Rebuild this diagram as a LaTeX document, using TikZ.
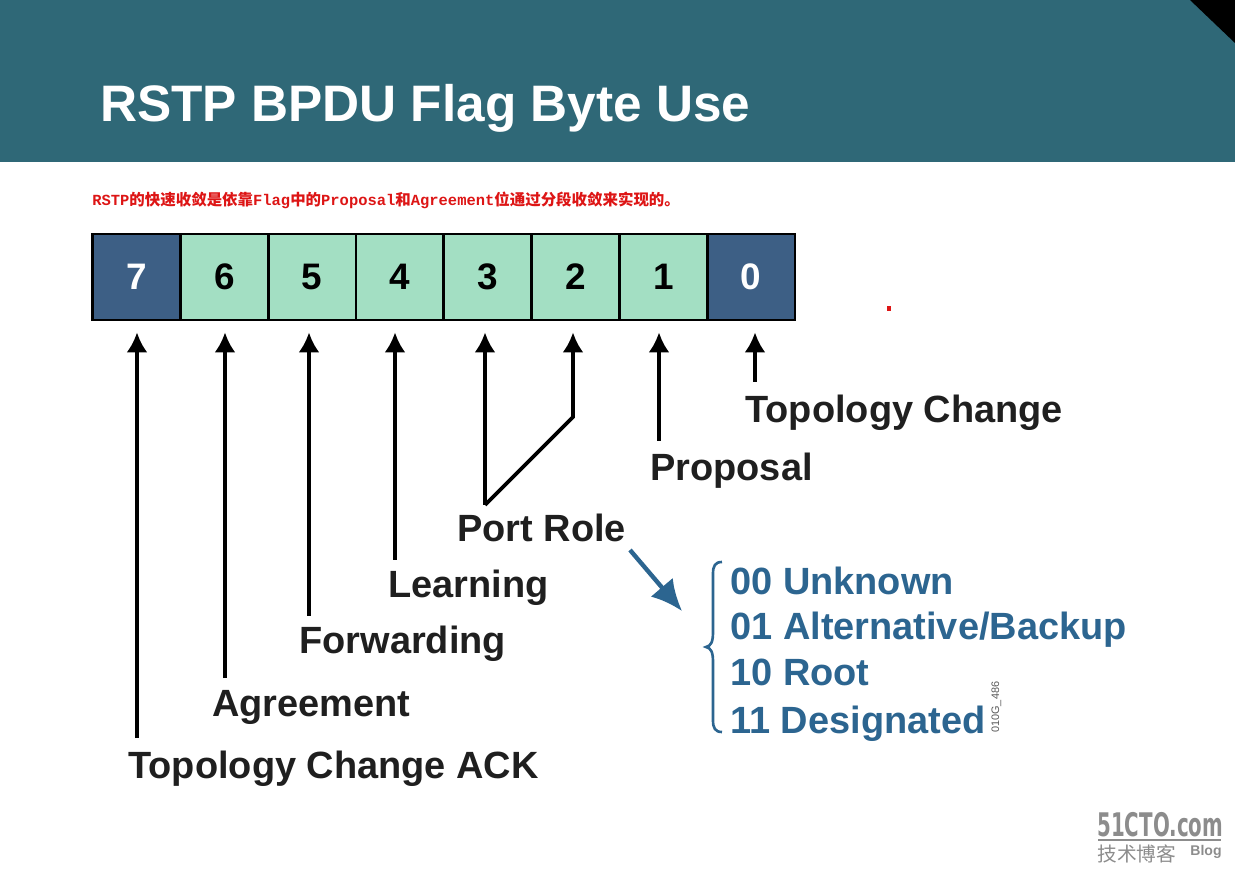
\documentclass[tikz,border=0pt]{standalone}
\usepackage{fontspec}
\setmainfont{Liberation Sans}
\newfontfamily\cjk{Noto Sans CJK SC}
\newfontfamily\monofnt{Liberation Mono}
\newfontfamily\markfnt{DejaVu Sans}
\usetikzlibrary{arrows.meta}

\definecolor{banner}{HTML}{2F6877}
\definecolor{darkcell}{HTML}{3D5F85}
\definecolor{lightcell}{HTML}{A3DFC3}
\definecolor{rolecol}{HTML}{2C6590}
\definecolor{notered}{HTML}{DD1515}
\definecolor{markgray}{HTML}{8C8C8C}

\tikzset{
	bitcell/.style={draw=black, line width=1.6pt, minimum width=1.756cm, minimum height=1.72cm, inner sep=0pt, font=\bfseries\fontsize{21}{21}\selectfont},
	flaglabel/.style={anchor=base west, inner sep=0pt, text=black!88, font=\bfseries\fontsize{21.6}{21.6}\selectfont},
	rolelabel/.style={anchor=base west, inner sep=0pt, text=rolecol, font=\bfseries\fontsize{21.6}{21.6}\selectfont},
	bitarrow/.style={line width=2.1pt, black, shorten >=0.22cm, -{Latex[length=0.4cm, width=0.42cm]}},
}

\begin{document}
\begin{tikzpicture}[x=0.02cm, y=-0.02cm]
	\useasboundingbox (0,0) rectangle (1235,878);

	\fill[banner] (0,0) rectangle (1235,162);
	\fill[black] (1190,0) -- (1235,0) -- (1235,43) -- cycle;
	\node[anchor=base west, inner sep=0pt, text=white, font=\bfseries\fontsize{29.2}{29.2}\selectfont] (title) at (100,122) {RSTP BPDU Flag Byte Use};

	\node[anchor=base west, inner sep=0pt, text=notered, font=\bfseries] (note) at (92,206) {\fontsize{8.8}{10}\selectfont\monofnt RSTP\cjk 的快速收敛是依靠\monofnt Flag\cjk 中的\monofnt Proposal\cjk 和\monofnt Agreement\cjk 位通过分段收敛来实现的。};

	% the eight flag bits
	\foreach \bit/\col/\txt in {7/darkcell/white, 6/lightcell/black, 5/lightcell/black, 4/lightcell/black, 3/lightcell/black, 2/lightcell/black, 1/lightcell/black, 0/darkcell/white}{
		\pgfmathsetmacro{\xpos}{136.5+(7-\bit)*87.8}
		\node[bitcell, fill=\col, text=\txt] (cell\bit) at (\xpos,277) {\bit};
	}

	\node[flaglabel] (ack) at (128,778) {Topology Change ACK};
	\node[flaglabel] (agreement) at (212,716) {Agreement};
	\node[flaglabel] (forwarding) at (299,654) {Forwarding};
	\node[flaglabel] (learning) at (388,598) {Learning};
	\node[flaglabel] (portrole) at (457,542) {Port Role};
	\node[flaglabel] (proposal) at (650,481) {Proposal};
	\node[flaglabel] (topology) at (745,423) {Topology Change};

	\coordinate (tail7) at (137,738);
	\coordinate (tail6) at (225,678);
	\coordinate (tail5) at (309,616);
	\coordinate (tail4) at (395,560);
	\coordinate (tail3) at (485,505);
	\coordinate (bend2) at (573,417);
	\coordinate (tail1) at (659,441);
	\coordinate (tail0) at (755,382);

	\draw[bitarrow] (tail7) -- (tail7 |- cell7.south);
	\draw[bitarrow] (tail6) -- (tail6 |- cell6.south);
	\draw[bitarrow] (tail5) -- (tail5 |- cell5.south);
	\draw[bitarrow] (tail4) -- (tail4 |- cell4.south);
	\draw[bitarrow] (tail3) -- (tail3 |- cell3.south);
	\draw[bitarrow] (tail3) -- (bend2) -- (bend2 |- cell2.south);
	\draw[bitarrow] (tail1) -- (tail1 |- cell1.south);
	\draw[bitarrow] (tail0) -- (tail0 |- cell0.south);

	% port role values
	\coordinate (rolefrom) at (630,550);
	\coordinate (roleto) at (682,611);
	\draw[line width=2.5pt, rolecol, -{Latex[length=0.62cm, width=0.58cm]}] (rolefrom) -- (roleto);
	\draw[line width=1.5pt, rolecol] (722,562) .. controls (715,562) and (713,566) .. (713,574) -- (713,632) .. controls (713,642) and (711,646) .. (706,647) .. controls (711,648) and (713,652) .. (713,662) -- (713,720) .. controls (713,728) and (715,732) .. (722,732);
	\node[rolelabel] (unknown) at (730,595) {00 Unknown};
	\node[rolelabel] (backup) at (730,640) {01 Alternative/Backup};
	\node[rolelabel] (root) at (730,685) {10 Root};
	\node[rolelabel] (designated) at (730,733) {11 Designated};
	\node[rotate=90, anchor=base west, inner sep=0pt, text=black!65, font=\fontsize{6.2}{6.2}\selectfont] (figcode) at (999,733) {010G\_486};

	\fill[notered] (887,306) rectangle (891,311);

	% site mark in the corner
	\node[anchor=base west, inner sep=0pt, text=markgray, font=\markfnt\bfseries\fontsize{18.5}{18.5}\selectfont] (site) at (1097,836) {\scalebox{.61}[1]{51CTO.com}};
	\draw[line width=1.2pt, markgray] (1098,840) -- (1221,840);
	\node[anchor=base west, inner sep=0pt, text=markgray, font=\cjk\fontsize{11.2}{11.2}\selectfont] (blogcn) at (1097,861) {技术博客};
	\node[anchor=base west, inner sep=0pt, text=markgray, font=\bfseries\fontsize{8}{8}\selectfont] (blogen) at (1190,855) {Blog};
\end{tikzpicture}
\end{document}
